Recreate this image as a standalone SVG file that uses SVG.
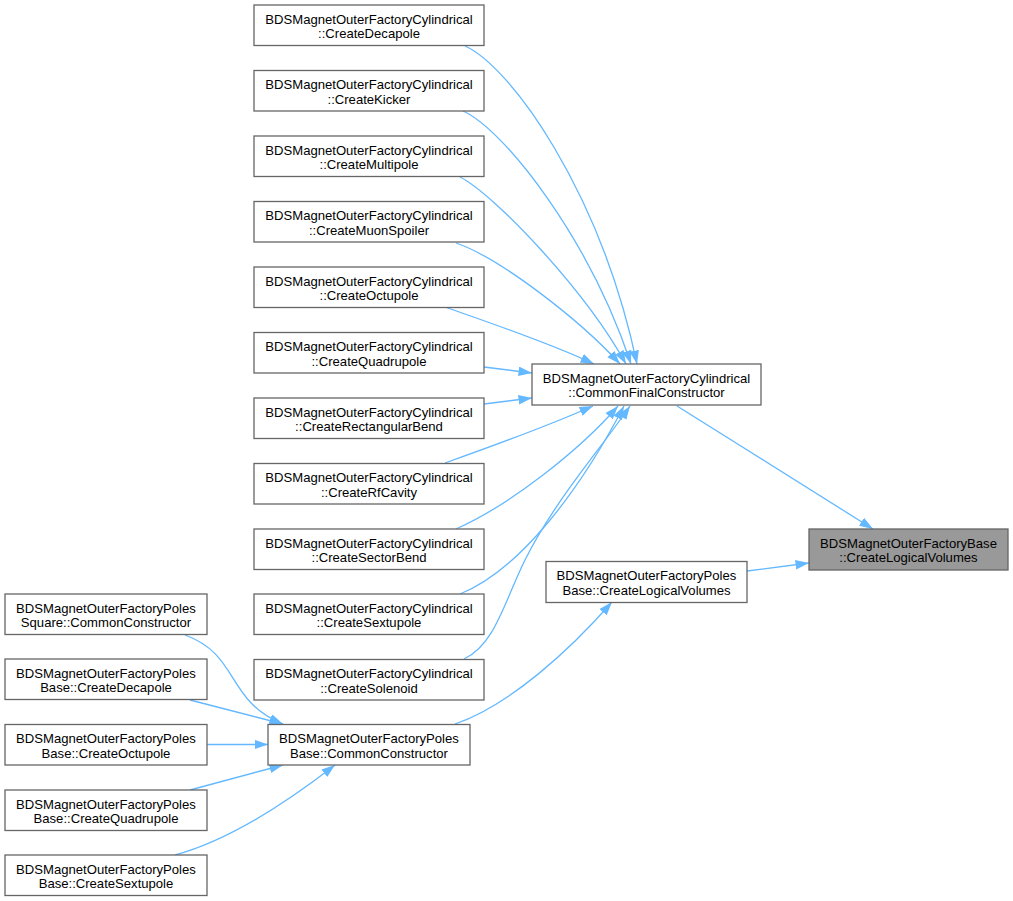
<svg xmlns="http://www.w3.org/2000/svg" width="1013" height="901" viewBox="0 0 1013 901">
<style>
.n rect{fill:#ffffff;stroke:#666666;stroke-width:1.3}
.n.hl rect{fill:#999999}
.n text{font-family:"Liberation Sans",Arial,Helvetica,sans-serif;font-size:13.1px;fill:#000000;text-anchor:middle}
.e path{fill:none;stroke:#63b8ff;stroke-width:1.3;marker-end:url(#ah)}
</style>
<defs>
<marker id="ah" markerUnits="userSpaceOnUse" markerWidth="15" markerHeight="11" refX="13.5" refY="4.75" orient="auto">
<path d="M0,0 L13.5,4.75 L0,9.5 z" fill="#63b8ff" stroke="none"/>
</marker>
</defs>
<rect width="1013" height="901" fill="#ffffff"/>
<g id="edges" class="e">
<path d="M465,46 C510,66 600,190 637,364"/>
<path d="M463,111 C505,130 590,240 631,364"/>
<path d="M460,177 C495,195 585,290 626,364"/>
<path d="M456,243 C500,258 580,320 620,364"/>
<path d="M445,307 C490,323 550,343 594,364"/>
<path d="M484,367 L532,373"/>
<path d="M484,404 L532,398"/>
<path d="M445,463 C490,447 550,425 593,406"/>
<path d="M456,529 C510,505 580,450 618,406"/>
<path d="M460,594 C520,570 580,490 624,406"/>
<path d="M464,659 C495,645 505,600 525,560 C555,500 600,450 630,406"/>
<path d="M455,724 C510,705 570,650 612,602"/>
<path d="M677,406 L873,529"/>
<path d="M747,571 L809,563"/>
<path d="M185,635 C240,655 225,700 283,724"/>
<path d="M190,700 L283,724"/>
<path d="M207,744.5 L268,744.5"/>
<path d="M190,790 L283,765"/>
<path d="M175,855 C230,840 290,800 335,765"/>
</g>
<g id="node_base_clv" class="n hl"><rect x="809" y="529" width="199" height="41"/><text x="908.5" y="547.5">BDSMagnetOuterFactoryBase</text><text x="908.5" y="562">::CreateLogicalVolumes</text></g>
<g id="node_cyl_cfc" class="n"><rect x="532" y="364" width="229" height="41"/><text x="646.5" y="382.5">BDSMagnetOuterFactoryCylindrical</text><text x="646.5" y="397">::CommonFinalConstructor</text></g>
<g id="node_poles_clv" class="n"><rect x="546" y="561.5" width="201" height="41"/><text x="646.5" y="580">BDSMagnetOuterFactoryPoles</text><text x="646.5" y="594.5">Base::CreateLogicalVolumes</text></g>
<g id="node_cyl_decapole" class="n"><rect x="254" y="5" width="230" height="40.5"/><text x="369" y="23.5">BDSMagnetOuterFactoryCylindrical</text><text x="369" y="38">::CreateDecapole</text></g>
<g id="node_cyl_kicker" class="n"><rect x="254" y="70.5" width="230" height="40.5"/><text x="369" y="89">BDSMagnetOuterFactoryCylindrical</text><text x="369" y="103.5">::CreateKicker</text></g>
<g id="node_cyl_multipole" class="n"><rect x="254" y="136" width="230" height="40.5"/><text x="369" y="154.5">BDSMagnetOuterFactoryCylindrical</text><text x="369" y="169">::CreateMultipole</text></g>
<g id="node_cyl_muonspoiler" class="n"><rect x="254" y="201.5" width="230" height="40.5"/><text x="369" y="220">BDSMagnetOuterFactoryCylindrical</text><text x="369" y="234.5">::CreateMuonSpoiler</text></g>
<g id="node_cyl_octupole" class="n"><rect x="254" y="267" width="230" height="40.5"/><text x="369" y="285.5">BDSMagnetOuterFactoryCylindrical</text><text x="369" y="300">::CreateOctupole</text></g>
<g id="node_cyl_quadrupole" class="n"><rect x="254" y="332.5" width="230" height="40.5"/><text x="369" y="351">BDSMagnetOuterFactoryCylindrical</text><text x="369" y="365.5">::CreateQuadrupole</text></g>
<g id="node_cyl_rectbend" class="n"><rect x="254" y="398" width="230" height="40.5"/><text x="369" y="416.5">BDSMagnetOuterFactoryCylindrical</text><text x="369" y="431">::CreateRectangularBend</text></g>
<g id="node_cyl_rfcavity" class="n"><rect x="254" y="463.5" width="230" height="40.5"/><text x="369" y="482">BDSMagnetOuterFactoryCylindrical</text><text x="369" y="496.5">::CreateRfCavity</text></g>
<g id="node_cyl_sectorbend" class="n"><rect x="254" y="529" width="230" height="40.5"/><text x="369" y="547.5">BDSMagnetOuterFactoryCylindrical</text><text x="369" y="562">::CreateSectorBend</text></g>
<g id="node_cyl_sextupole" class="n"><rect x="254" y="594" width="230" height="40.5"/><text x="369" y="612.5">BDSMagnetOuterFactoryCylindrical</text><text x="369" y="627">::CreateSextupole</text></g>
<g id="node_cyl_solenoid" class="n"><rect x="254" y="659.5" width="230" height="40.5"/><text x="369" y="678">BDSMagnetOuterFactoryCylindrical</text><text x="369" y="692.5">::CreateSolenoid</text></g>
<g id="node_poles_cc" class="n"><rect x="268" y="724.5" width="202" height="40.5"/><text x="369" y="743">BDSMagnetOuterFactoryPoles</text><text x="369" y="757.5">Base::CommonConstructor</text></g>
<g id="node_square_cc" class="n"><rect x="5" y="594" width="202" height="40.5"/><text x="106" y="612.5">BDSMagnetOuterFactoryPoles</text><text x="106" y="627">Square::CommonConstructor</text></g>
<g id="node_poles_decapole" class="n"><rect x="5" y="659" width="202" height="40.5"/><text x="106" y="677.5">BDSMagnetOuterFactoryPoles</text><text x="106" y="692">Base::CreateDecapole</text></g>
<g id="node_poles_octupole" class="n"><rect x="5" y="724.5" width="202" height="40.5"/><text x="106" y="743">BDSMagnetOuterFactoryPoles</text><text x="106" y="757.5">Base::CreateOctupole</text></g>
<g id="node_poles_quadrupole" class="n"><rect x="5" y="790" width="202" height="40.5"/><text x="106" y="808.5">BDSMagnetOuterFactoryPoles</text><text x="106" y="823">Base::CreateQuadrupole</text></g>
<g id="node_poles_sextupole" class="n"><rect x="5" y="855" width="202" height="40.5"/><text x="106" y="873.5">BDSMagnetOuterFactoryPoles</text><text x="106" y="888">Base::CreateSextupole</text></g>
</svg>
